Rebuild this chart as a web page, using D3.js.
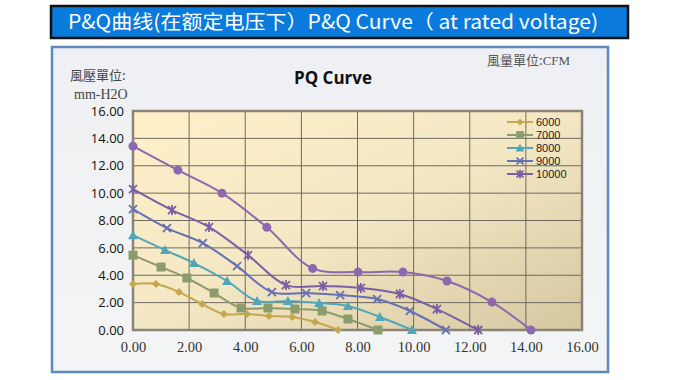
<!DOCTYPE html>
<html><head><meta charset="utf-8">
<script src="https://cdn.jsdelivr.net/npm/d3@7"></script>
<style>body{margin:0;background:#fff}svg{display:block}</style>
</head><body><svg id="c" width="680" height="380"></svg>
<script>
const xTicks = [0,2,4,6,8,10,12,14,16];
const yTicks = [0,2,4,6,8,10,12,14,16];
const legendNames = ["6000","7000","8000","9000","10000"];
const s6000x = [0,0.82,1.64,2.46,3.24,4.06,4.85,5.67,6.49,7.31];
const s6000y = [3.36,3.36,2.77,1.90,1.17,1.17,1.02,0.95,0.58,0];
const s7000x = [0,1.0,1.92,2.89,3.85,4.81,5.77,6.74,7.66,8.73];
const s7000y = [5.47,4.60,3.80,2.70,1.61,1.61,1.53,1.39,0.80,0];
const s8000x = [0,1.14,2.17,3.35,4.42,5.52,6.63,7.66,8.80,9.94];
const s8000y = [6.93,5.84,4.89,3.58,2.12,2.12,1.97,1.75,0.95,0];
const s9000x = [0,1.21,2.49,3.71,4.95,6.17,7.38,8.70,9.87,11.15];
const s9000y = [8.83,7.45,6.35,4.67,2.77,2.70,2.55,2.26,1.39,0];
const s10000x = [0,1.39,2.71,4.10,5.45,6.77,8.12,9.51,10.83,12.3];
const s10000y = [10.29,8.76,7.52,5.47,3.28,3.21,3.07,2.63,1.53,0];
const sTopx = [0,1.60,3.17,4.77,6.40,8.02,9.62,11.19,12.79,14.18];
const sTopy = [13.43,11.68,10.0,7.50,4.50,4.23,4.23,3.58,2.04,0];

const series = [
  {name:legendNames[0], xs:s6000x, ys:s6000y, color:"#C4A84E", marker:"diamond", legend:true},
  {name:legendNames[1], xs:s7000x, ys:s7000y, color:"#8C9C6C", marker:"square", legend:true},
  {name:legendNames[2], xs:s8000x, ys:s8000y, color:"#52A6B8", marker:"triangle", legend:true},
  {name:legendNames[3], xs:s9000x, ys:s9000y, color:"#6670B4", marker:"x", legend:true},
  {name:legendNames[4], xs:s10000x, ys:s10000y, color:"#7A5EA6", marker:"star", legend:true},
  {name:"", xs:sTopx, ys:sTopy, color:"#8E68AE", marker:"circle", legend:false}
];

const svg = d3.select("#c");
const defs = svg.append("defs");

// Title banner
svg.append("rect").attr("x",51).attr("y",6).attr("width",577).attr("height",32)
  .attr("fill","#0A7BDC").attr("stroke","#111").attr("stroke-width",2.5);
svg.append("text").attr("x",68).attr("y",29)
  .attr("font-family","'Noto Sans CJK SC','Open Sans',sans-serif").attr("font-size",19.5)
  .attr("textLength",530).attr("lengthAdjust","spacingAndGlyphs")
  .attr("fill","#fff").text("P&Q曲线(在额定电压下）P&Q Curve（ at rated voltage)");

// panel
const pg = defs.append("linearGradient").attr("id","pg").attr("x1",0).attr("y1",0).attr("x2",0).attr("y2",1);
pg.append("stop").attr("offset","0").attr("stop-color","#EEF0F3");
pg.append("stop").attr("offset","1").attr("stop-color","#F3F4F5");
svg.append("rect").attr("x",52).attr("y",47).attr("width",556).attr("height",325)
  .attr("fill","url(#pg)").attr("stroke","#5F88BC").attr("stroke-width",2.5);

// plot area
const L=133,T=111,R=582,B=330;
const x = d3.scaleLinear().domain([0,16]).range([L,R]);
const y = d3.scaleLinear().domain([0,16]).range([B,T]);
const bg = defs.append("linearGradient").attr("id","bg").attr("x1",0).attr("y1",0).attr("x2",1).attr("y2",1);
bg.append("stop").attr("offset","0").attr("stop-color","#FFF0C9");
bg.append("stop").attr("offset","0.5").attr("stop-color","#F4E7C4");
bg.append("stop").attr("offset","1").attr("stop-color","#D5C7A0");
svg.append("rect").attr("x",L).attr("y",T).attr("width",R-L).attr("height",B-T).attr("fill","url(#bg)");

// grid
svg.append("g").selectAll("line").data(xTicks.slice(1,-1)).join("line")
  .attr("x1",d=>x(d)).attr("x2",d=>x(d)).attr("y1",T).attr("y2",B)
  .attr("stroke","#6E6A60").attr("stroke-width",1);
svg.append("g").selectAll("line").data(yTicks.slice(1,-1)).join("line")
  .attr("y1",d=>y(d)).attr("y2",d=>y(d)).attr("x1",L).attr("x2",R)
  .attr("stroke","#6E6A60").attr("stroke-width",1);
svg.append("rect").attr("x",L).attr("y",T).attr("width",R-L).attr("height",B-T)
  .attr("fill","none").attr("stroke","#8A8478").attr("stroke-width",2.5);

// axes
const yAxis = d3.axisLeft(y).tickValues(yTicks).tickFormat(d3.format(".2f")).tickSize(0).tickPadding(9);
const gy = svg.append("g").attr("transform",`translate(${L},0)`).call(yAxis);
gy.select(".domain").remove();
gy.selectAll("text").style("font-family","'Open Sans',sans-serif").style("font-size","13px").attr("fill","#111");
const xAxis = d3.axisBottom(x).tickValues(xTicks).tickFormat(d3.format(".2f")).tickSize(0).tickPadding(12);
const gx = svg.append("g").attr("transform",`translate(0,${B})`).call(xAxis);
gx.select(".domain").remove();
gx.selectAll("text").style("font-family","'Liberation Serif','DejaVu Serif',serif").style("font-size","14.5px").attr("fill","#333");

// labels
svg.append("text").attr("x",70).attr("y",80).attr("font-family","'Noto Sans CJK TC',serif").attr("font-size",13).attr("fill","#444").text("風壓單位:");
svg.append("text").attr("x",74).attr("y",99).attr("font-family","'Liberation Serif',serif").attr("font-size",14).attr("fill","#444").text("mm-H2O");
svg.append("text").attr("x",487).attr("y",65).attr("font-family","'Noto Sans CJK TC',serif").attr("font-size",13).attr("fill","#555")
  .text("風量單位:").append("tspan").attr("font-family","'Liberation Serif',serif").text("CFM");
svg.append("text").attr("x",333).attr("y",84).attr("text-anchor","middle").attr("font-family","'Open Sans',sans-serif")
  .attr("font-weight","bold").attr("font-size",17).attr("fill","#111").text("PQ Curve");

function marker(g, type, cx, cy, color, s){
  s = s||1;
  if(type==="diamond") g.append("path").attr("d",`M${cx},${cy-4*s}L${cx+4*s},${cy}L${cx},${cy+4*s}L${cx-4*s},${cy}Z`).attr("fill",color);
  else if(type==="square") g.append("rect").attr("x",cx-4.5*s).attr("y",cy-4.5*s).attr("width",9*s).attr("height",9*s).attr("fill",color);
  else if(type==="triangle") g.append("path").attr("d",`M${cx},${cy-5*s}L${cx+5*s},${cy+4*s}L${cx-5*s},${cy+4*s}Z`).attr("fill",color);
  else if(type==="circle") g.append("circle").attr("cx",cx).attr("cy",cy).attr("r",4.5*s).attr("fill",color);
  else if(type==="x") g.append("path").attr("d",`M${cx-4*s},${cy-4*s}L${cx+4*s},${cy+4*s}M${cx-4*s},${cy+4*s}L${cx+4*s},${cy-4*s}`).attr("stroke",color).attr("stroke-width",1.8);
  else if(type==="star") g.append("path").attr("d",`M${cx-4*s},${cy-4*s}L${cx+4*s},${cy+4*s}M${cx-4*s},${cy+4*s}L${cx+4*s},${cy-4*s}M${cx},${cy-5*s}L${cx},${cy+5*s}`).attr("stroke",color).attr("stroke-width",1.8);
}

const line = d3.line().x(d=>x(d[0])).y(d=>y(d[1])).curve(d3.curveCatmullRom.alpha(0.5));
series.forEach(s=>{
  const pts = s.xs.map((v,i)=>[v,s.ys[i]]);
  svg.append("path").datum(pts).attr("d",line).attr("fill","none").attr("stroke",s.color).attr("stroke-width",2);
  const g = svg.append("g");
  pts.forEach(p=>marker(g,s.marker,x(p[0]),y(p[1]),s.color));
});

// legend
const lg = svg.append("g");
series.filter(s=>s.legend).forEach((s,i)=>{
  const yy = 122 + i*13;
  lg.append("line").attr("x1",507).attr("x2",533).attr("y1",yy).attr("y2",yy).attr("stroke",s.color).attr("stroke-width",2);
  marker(lg,s.marker,520,yy,s.color,0.85);
  lg.append("text").attr("x",536).attr("y",yy+4).attr("font-family","'Liberation Sans',sans-serif").attr("font-size",11).attr("fill","#222").text(s.name);
});
</script></body></html>
